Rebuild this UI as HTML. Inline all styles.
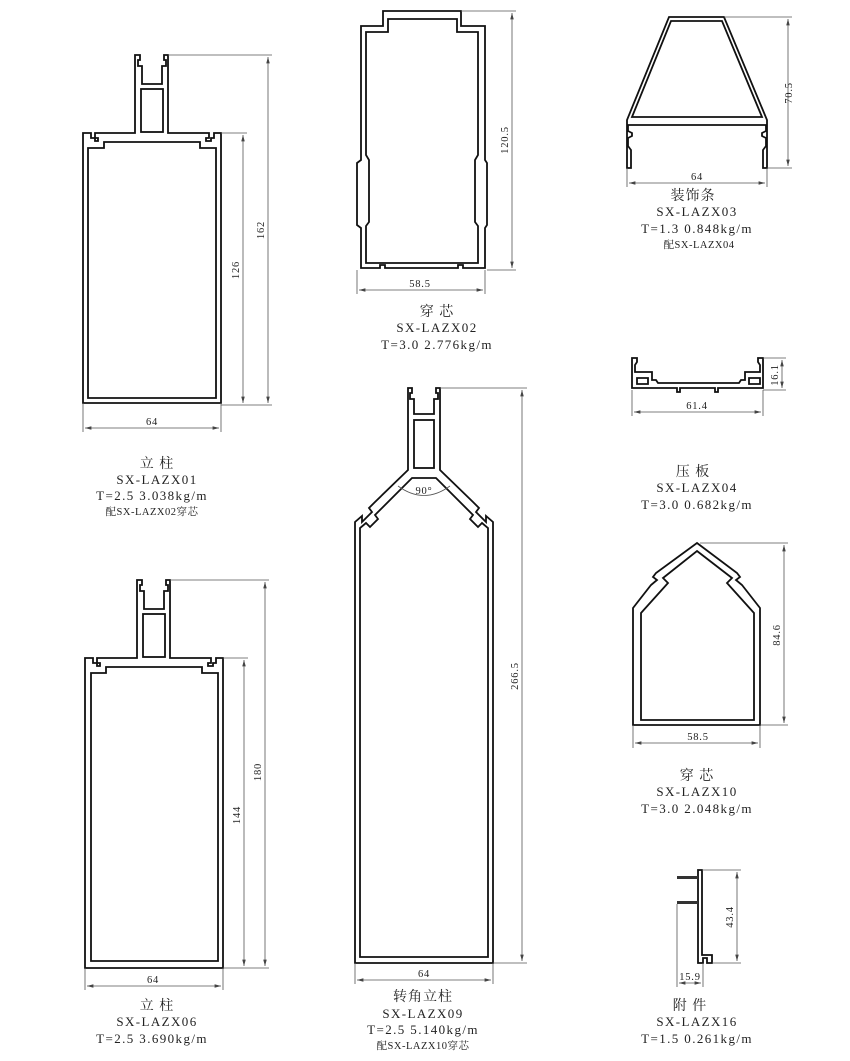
<!DOCTYPE html>
<html><head><meta charset="utf-8"><style>
html,body{margin:0;padding:0;background:#fff}
svg{display:block}
text{font-family:"Liberation Serif","Noto Serif CJK SC",serif;fill:#222}
.p{fill:none;stroke:#111;stroke-width:1.8}
.d{fill:none;stroke:#555;stroke-width:0.8}
.l{font-size:14px;letter-spacing:1px}
.c{font-size:13px;letter-spacing:1.4px}
.s{font-size:10.5px;letter-spacing:0.5px}
.dt{font-size:10.5px;letter-spacing:0.8px}
</style></head><body>
<svg width="850" height="1061" viewBox="0 0 850 1061" xmlns="http://www.w3.org/2000/svg">
<defs><marker id="a" markerWidth="8" markerHeight="6" refX="8" refY="3" orient="auto-start-reverse"><path d="M0,0.8 L8,3 L0,5.2 Z" fill="#444"/></marker></defs>

<!-- X01 -->
<path class="p" d="M83,403 V133 H91 V138 H95 V141 H98 V138 H95 V133 H135 V55 H140 V60 H138 V66 H142 V84 H162 V66 H166 V60 H164 V55 H168 V133 H209 V138 H206 V141 H211 V138 H214 V133 H221 V403 Z"/>
<path class="p" d="M88,398 V148 H104 V142 H200 V148 H216 V398 Z"/>
<rect class="p" x="141" y="89" width="22" height="43"/>
<path class="d" d="M168,55 H272 M221,133 H247 M221,405 H272"/>
<line class="d" x1="268" y1="57" x2="268" y2="403" marker-start="url(#a)" marker-end="url(#a)"/>
<line class="d" x1="243" y1="135" x2="243" y2="403" marker-start="url(#a)" marker-end="url(#a)"/>
<text class="dt" transform="translate(264,230) rotate(-90)" text-anchor="middle">162</text>
<text class="dt" transform="translate(239,270) rotate(-90)" text-anchor="middle">126</text>
<path class="d" d="M83,403 V432 M221,403 V432"/>
<line class="d" x1="85" y1="428" x2="219" y2="428" marker-start="url(#a)" marker-end="url(#a)"/>
<text class="dt" x="152" y="425" text-anchor="middle">64</text>
<text class="l" x="157" y="468" text-anchor="middle">立 柱</text>
<text class="c" x="157" y="484" text-anchor="middle">SX-LAZX01</text>
<text class="c" x="152" y="500" text-anchor="middle">T=2.5 3.038kg/m</text>
<text class="s" x="152" y="515" text-anchor="middle">配SX-LAZX02穿芯</text>

<!-- X06 -->
<path class="p" d="M85,968 V658 H93 V663 H97 V666 H100 V663 H97 V658 H137 V580 H142 V585 H140 V591 H144 V609 H164 V591 H168 V585 H166 V580 H170 V658 H211 V663 H208 V666 H213 V663 H216 V658 H223 V968 Z"/>
<path class="p" d="M91,961 V673 H106 V667 H202 V673 H218 V961 Z"/>
<rect class="p" x="143" y="614" width="22" height="43"/>
<path class="d" d="M170,580 H269 M223,658 H248 M223,968 H269"/>
<line class="d" x1="265" y1="582" x2="265" y2="966" marker-start="url(#a)" marker-end="url(#a)"/>
<line class="d" x1="244" y1="660" x2="244" y2="966" marker-start="url(#a)" marker-end="url(#a)"/>
<text class="dt" transform="translate(261,772) rotate(-90)" text-anchor="middle">180</text>
<text class="dt" transform="translate(240,815) rotate(-90)" text-anchor="middle">144</text>
<path class="d" d="M85,968 V990 M223,968 V990"/>
<line class="d" x1="87" y1="986" x2="221" y2="986" marker-start="url(#a)" marker-end="url(#a)"/>
<text class="dt" x="153" y="983" text-anchor="middle">64</text>
<text class="l" x="157" y="1010" text-anchor="middle">立 柱</text>
<text class="c" x="157" y="1026" text-anchor="middle">SX-LAZX06</text>
<text class="c" x="152" y="1043" text-anchor="middle">T=2.5 3.690kg/m</text>

<!-- X02 -->
<path class="p" d="M383,11 H461 V26 H485 V160 L487,163 V225 L485,228 V268 H463 V265 H458 V268 H385 V265 H380 V268 H361 V228 L357,225 V163 L361,160 V26 H383 Z"/>
<path class="p" d="M366,32 H388 V19 H457 V32 H478 V155 L475,160 V222 L478,226 V263 H366 V226 L369,222 V160 L366,155 Z"/>
<path class="d" d="M461,11 H516 M487,270 H516 M357,270 V294 M485,270 V294"/>
<line class="d" x1="512" y1="13" x2="512" y2="268" marker-start="url(#a)" marker-end="url(#a)"/>
<text class="dt" transform="translate(508,140) rotate(-90)" text-anchor="middle">120.5</text>
<line class="d" x1="359" y1="290" x2="483" y2="290" marker-start="url(#a)" marker-end="url(#a)"/>
<text class="dt" x="420" y="287" text-anchor="middle">58.5</text>
<text class="l" x="437" y="316" text-anchor="middle">穿 芯</text>
<text class="c" x="437" y="332" text-anchor="middle">SX-LAZX02</text>
<text class="c" x="437" y="349" text-anchor="middle">T=3.0 2.776kg/m</text>

<!-- X03 -->
<path class="p" d="M669,17 H724 L767,120 V168 H763 V150 L766,146 V138 L762,136 V133 L766,131 V125 H628 V131 L632,133 V136 L628,138 V146 L631,150 V168 H627 V120 Z"/>
<path class="p" d="M671,21 H722 L762,117 H632 Z"/>
<path class="d" d="M724,17 H792 M767,168 H792 M627,168 V187 M767,168 V187"/>
<line class="d" x1="788" y1="19" x2="788" y2="166" marker-start="url(#a)" marker-end="url(#a)"/>
<text class="dt" transform="translate(792,93) rotate(-90)" text-anchor="middle">70.5</text>
<line class="d" x1="629" y1="183" x2="765" y2="183" marker-start="url(#a)" marker-end="url(#a)"/>
<text class="dt" x="697" y="180" text-anchor="middle">64</text>
<text class="l" x="693" y="200" text-anchor="middle">装饰条</text>
<text class="c" x="697" y="216" text-anchor="middle">SX-LAZX03</text>
<text class="c" x="697" y="233" text-anchor="middle">T=1.3 0.848kg/m</text>
<text class="s" x="699" y="248" text-anchor="middle">配SX-LAZX04</text>

<!-- X04 -->
<path class="p" d="M632,358 H637 V362 L635,365 V372 H652 V380 H656 L658,383 H739 L741,380 H745 V372 H760 V365 L758,362 V358 H763 V388 H718 V392 H715 V388 H680 V392 H677 V388 H632 Z"/>
<path class="p" d="M637,378 H648 V384 H637 Z M749,378 H760 V384 H749 Z"/>
<path class="d" d="M763,358 H786 M763,390 H786 M632,390 V416 M763,390 V416"/>
<line class="d" x1="782" y1="360" x2="782" y2="388" marker-start="url(#a)" marker-end="url(#a)"/>
<text class="dt" transform="translate(778,375) rotate(-90)" text-anchor="middle">16.1</text>
<line class="d" x1="634" y1="412" x2="761" y2="412" marker-start="url(#a)" marker-end="url(#a)"/>
<text class="dt" x="697" y="409" text-anchor="middle">61.4</text>
<text class="l" x="693" y="476" text-anchor="middle">压 板</text>
<text class="c" x="697" y="492" text-anchor="middle">SX-LAZX04</text>
<text class="c" x="697" y="509" text-anchor="middle">T=3.0 0.682kg/m</text>

<!-- X10 -->
<path class="p" d="M697,543 L737,573 L740,577 L736,580 L742,585 L760,608 V725 H633 V608 L651,585 L657,580 L653,577 L656,573 Z"/>
<path class="p" d="M697,551 L732,578 L727,583 L754,613 V720 H641 V613 L668,583 L663,578 Z"/>
<path class="d" d="M700,543 H788 M760,725 H788 M633,725 V748 M760,725 V748"/>
<line class="d" x1="784" y1="545" x2="784" y2="723" marker-start="url(#a)" marker-end="url(#a)"/>
<text class="dt" transform="translate(780,635) rotate(-90)" text-anchor="middle">84.6</text>
<line class="d" x1="635" y1="743" x2="758" y2="743" marker-start="url(#a)" marker-end="url(#a)"/>
<text class="dt" x="698" y="740" text-anchor="middle">58.5</text>
<text class="l" x="697" y="780" text-anchor="middle">穿 芯</text>
<text class="c" x="697" y="796" text-anchor="middle">SX-LAZX10</text>
<text class="c" x="697" y="813" text-anchor="middle">T=3.0 2.048kg/m</text>

<!-- X16 -->
<path class="p" d="M698,870 H702 V955 H712 V963 H707 V958 H703 V963 H698 Z"/>
<path d="M677,876 H698 V879 H677 Z M677,901 H698 V904 H677 Z" fill="#333"/>
<path class="d" d="M702,870 H741 M712,963 H741 M677,904 V987 M703,963 V987"/>
<line class="d" x1="737" y1="872" x2="737" y2="961" marker-start="url(#a)" marker-end="url(#a)"/>
<text class="dt" transform="translate(733,917) rotate(-90)" text-anchor="middle">43.4</text>
<line class="d" x1="679" y1="983" x2="701" y2="983" marker-start="url(#a)" marker-end="url(#a)"/>
<text class="dt" x="690" y="980" text-anchor="middle">15.9</text>
<text class="l" x="690" y="1010" text-anchor="middle">附 件</text>
<text class="c" x="697" y="1026" text-anchor="middle">SX-LAZX16</text>
<text class="c" x="697" y="1043" text-anchor="middle">T=1.5 0.261kg/m</text>

<!-- X09 -->
<path class="p" d="M355,963 V522 L362,516 V522 L366,518 L372,512 L369,508 L375,502 L408,470 V388 H412 V393 H410 V399 H414 V414 H434 V399 H438 V393 H436 V388 H440 V470 L473,502 L479,508 L476,512 L482,518 L486,522 V516 L493,522 V963 Z"/>
<path class="p" d="M360,957 V528 L366,523 L370,527 L378,519 L375,515 L412,478 H436 L473,515 L470,519 L478,527 L482,523 L488,528 V957 Z"/>
<rect class="p" x="414" y="420" width="20" height="48"/>
<path class="d" d="M398,486 Q424,505 450,486"/>
<text class="dt" x="424" y="494" text-anchor="middle">90°</text>
<path class="d" d="M440,388 H527 M493,963 H527 M355,963 V984 M493,963 V984"/>
<line class="d" x1="522" y1="390" x2="522" y2="961" marker-start="url(#a)" marker-end="url(#a)"/>
<text class="dt" transform="translate(518,676) rotate(-90)" text-anchor="middle">266.5</text>
<line class="d" x1="357" y1="980" x2="491" y2="980" marker-start="url(#a)" marker-end="url(#a)"/>
<text class="dt" x="424" y="977" text-anchor="middle">64</text>
<text class="l" x="423" y="1001" text-anchor="middle">转角立柱</text>
<text class="c" x="423" y="1018" text-anchor="middle">SX-LAZX09</text>
<text class="c" x="423" y="1034" text-anchor="middle">T=2.5 5.140kg/m</text>
<text class="s" x="423" y="1049" text-anchor="middle">配SX-LAZX10穿芯</text>
</svg>
</body></html>
